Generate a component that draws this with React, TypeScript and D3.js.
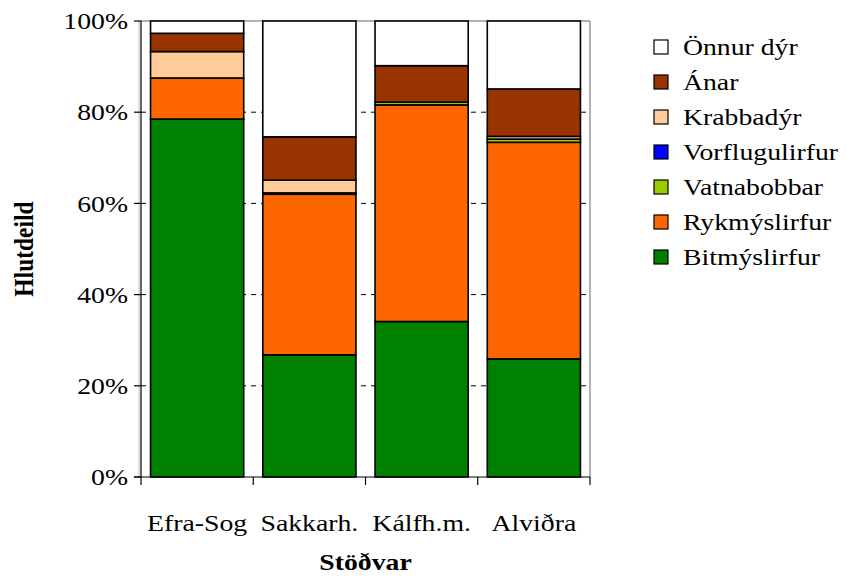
import React from "react";
import * as d3 from "d3";

const stations = ["Efra-Sog", "Sakkarh.", "Kálfh.m.", "Alviðra"];
const seriesNames = ["Bitmýslirfur", "Rykmýslirfur", "Vatnabobbar", "Vorflugulirfur", "Krabbadýr", "Ánar", "Önnur dýr"];
const seriesColors = ["#008000", "#FF6600", "#99CC00", "#0000FF", "#FFCC99", "#993300", "#FFFFFF"];
const bitmy = [78.5, 26.8, 34.1, 25.9];
const rykmy = [9.0, 35.2, 47.5, 47.5];
const vatna = [0, 0.3, 0.6, 0.7];
const vorflug = [0, 0, 0, 0];
const krabba = [5.8, 2.8, 0, 0.6];
const anar = [4.0, 9.5, 8.0, 10.4];
const onnur = [2.7, 25.4, 9.8, 14.9];
const yTicks = [0, 20, 40, 60, 80, 100];

const seriesValues = [bitmy, rykmy, vatna, vorflug, krabba, anar, onnur];

const SX = 1.18;

function T(props: { x: number; y: number; anchor?: string; bold?: boolean; rotate?: boolean; dy?: string; children: any }) {
  const { x, y, anchor = "start", bold, rotate, dy, children } = props;
  return (
    <text
      transform={`translate(${x},${y}) scale(${SX},1)${rotate ? " rotate(-90)" : ""}`}
      textAnchor={anchor}
      dy={dy}
      fontSize={23.5}
      fontWeight={bold ? "bold" : "normal"}
    >
      {children}
    </text>
  );
}

export default function App() {
  const W = 846, H = 576;
  const left = 141, right = 590, top = 21, bottom = 477;
  const font = '"Times New Roman", "Liberation Serif", Times, serif';

  const x = d3.scaleBand<string>().domain(stations).range([left, right]).paddingInner(0.17).paddingOuter(0.085);
  const y = d3.scaleLinear().domain([0, 100]).range([bottom, top]);

  const table = stations.map((s, i) => {
    const row: any = { station: s };
    seriesNames.forEach((n, j) => (row[n] = seriesValues[j][i]));
    return row;
  });
  const stack = d3.stack<any>().keys(seriesNames)(table);
  const catStep = (right - left) / stations.length;

  return (
    <svg width={W} height={H} style={{ position: "absolute", left: 0, top: 0, background: "#fff", fontFamily: font }}>
      <line x1={left} x2={right} y1={top} y2={top} stroke="#999" strokeWidth={1.5} />
      <line x1={right} x2={right} y1={top} y2={bottom} stroke="#999" strokeWidth={1.5} />
      <line x1={left - 2} x2={left - 2} y1={top} y2={bottom} stroke="#bbb" strokeWidth={1} />
      {yTicks.filter((t) => t > 0 && t < 100).map((t) => (
        <line key={t} x1={left} x2={right} y1={y(t)} y2={y(t)} stroke="#000" strokeWidth={1} strokeDasharray="5,5" />
      ))}
      {stack.map((layer, j) => (
        <g key={seriesNames[j]}>
          {layer.map((d, i) => {
            const h = y(d[0]) - y(d[1]);
            if (h <= 0) return null;
            return (
              <rect key={i} x={x(stations[i])} y={y(d[1])} width={x.bandwidth()} height={h}
                fill={seriesColors[j]} stroke="#000" strokeWidth={1.6} />
            );
          })}
        </g>
      ))}
      <line x1={left} x2={left} y1={top} y2={bottom} stroke="#000" strokeWidth={1.2} />
      <line x1={left - 7} x2={right} y1={bottom} y2={bottom} stroke="#000" strokeWidth={1.2} />
      {yTicks.map((t) => (
        <g key={t}>
          <line x1={left - 7} x2={left} y1={y(t)} y2={y(t)} stroke="#000" strokeWidth={1.2} />
          <T x={128} y={y(t)} dy="0.35em" anchor="end">{t}%</T>
        </g>
      ))}
      {d3.range(stations.length + 1).map((i) => (
        <line key={i} x1={left + i * catStep} x2={left + i * catStep} y1={bottom} y2={bottom + 8} stroke="#000" strokeWidth={1.2} />
      ))}
      {stations.map((s) => (
        <T key={s} x={(x(s) as number) + x.bandwidth() / 2} y={531} anchor="middle">{s}</T>
      ))}
      <T x={(left + right) / 2} y={570} anchor="middle" bold>Stöðvar</T>
      <T x={33} y={(top + bottom) / 2} anchor="middle" bold rotate>Hlutdeild</T>
      {seriesNames.slice().reverse().map((n, k) => {
        const j = seriesNames.length - 1 - k;
        const cy = 47 + k * 35;
        return (
          <g key={n}>
            <rect x={654} y={cy - 7} width={14} height={14} fill={seriesColors[j]} stroke="#000" strokeWidth={1.2} />
            <T x={683} y={cy} dy="0.35em">{n}</T>
          </g>
        );
      })}
    </svg>
  );
}
